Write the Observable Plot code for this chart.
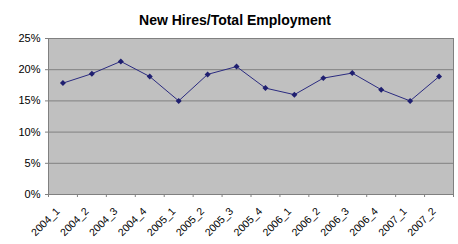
<!DOCTYPE html>
<html><head><meta charset="utf-8">
<script src="https://cdn.jsdelivr.net/npm/d3@7"></script>
<script src="https://cdn.jsdelivr.net/npm/@observablehq/plot@0.6"></script>
<style>body{margin:0;background:#fff;font-family:"Liberation Sans",Arial,sans-serif}</style>
</head><body><div id="chart"></div>
<script>
const categories = ["2004_1","2004_2","2004_3","2004_4","2005_1","2005_2","2005_3","2005_4","2006_1","2006_2","2006_3","2006_4","2007_1","2007_2"];
const values = [0.1785,0.1936,0.2133,0.189,0.150,0.1925,0.205,0.1705,0.160,0.1865,0.1946,0.168,0.150,0.189];
const yTicks = [0,0.05,0.10,0.15,0.20,0.25];
const title = "New Hires/Total Employment";
const data = categories.map((c,i)=>({c, i: i+0.5, v: values[i]}));
const chart = Plot.plot({
  width: 458, height: 244,
  marginLeft: 48, marginRight: 5, marginTop: 38, marginBottom: 50,
  style: {fontFamily: "Liberation Sans, Arial, sans-serif", fontSize: "11px", background: "#fff", color: "#000"},
  x: {domain: [0, categories.length], axis: null},
  y: {domain: [0, 0.25], axis: null},
  marks: [
    Plot.frame({fill: "#c0c0c0", stroke: "#808080"}),
    Plot.ruleY(yTicks.slice(1,-1), {stroke: "#808080", strokeWidth: 1}),
    Plot.axisY({ticks: yTicks, tickFormat: d3.format(".0%"), tickSize: 3, tickPadding: 5, stroke: "#808080", fill: "#000", fontSize: 11, label: null}),
    Plot.axisX({ticks: d3.range(0, categories.length+1), tickFormat: () => "", tickSize: 3, stroke: "#808080", label: null}),
    Plot.text(data, {x: "i", y: 0, text: "c", rotate: -45, textAnchor: "end", lineAnchor: "middle", dx: -5, dy: 15, fontSize: 10.5, fill: "#000"}),
    Plot.line(data, {x: "i", y: "v", stroke: "#2b2b80", strokeWidth: 1}),
    Plot.dot(data, {x: "i", y: "v", symbol: "diamond2", r: 2.7, fill: "#1f1f70", stroke: "none"}),
    Plot.text([title], {frameAnchor: "top", dx: -16, dy: -23, text: d => d, fontWeight: "bold", fontSize: 14, fill: "#000"})
  ]
});
document.getElementById("chart").append(chart);
</script></body></html>
